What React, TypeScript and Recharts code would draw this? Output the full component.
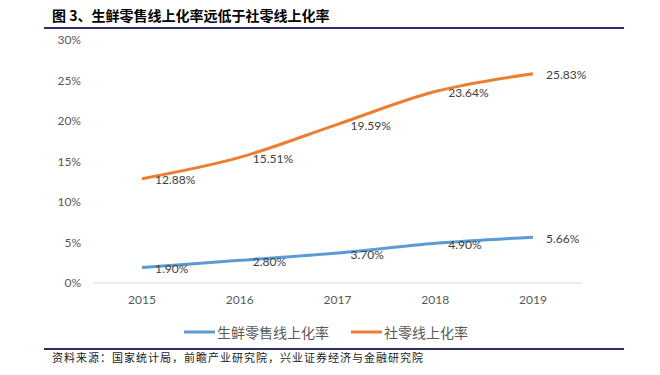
import React from "react";
import { LineChart, Line, XAxis, YAxis, Legend } from "recharts";

const years = ["2015", "2016", "2017", "2018", "2019"];
const freshOnline = [1.9, 2.8, 3.7, 4.9, 5.66];
const retailOnline = [12.88, 15.51, 19.59, 23.64, 25.83];
const yTicks = [0, 5, 10, 15, 20, 25, 30];

const freshName = "生鲜零售线上化率";
const retailName = "社零线上化率";

const BLUE = "#5B9BD5";
const ORANGE = "#ED7D31";
const NAVY = "#302D6B";
const LATIN = "Lato, 'Noto Sans', sans-serif";
const CJK = "'Noto Sans CJK SC', sans-serif";

const data = years.map((y, i) => ({ year: y, fresh: freshOnline[i], retail: retailOnline[i] }));

// labels sit just right of each point, like the Excel original
const renderLabel = (props: any) => {
  const { x, y, value } = props;
  return (
    <text x={x + 13} y={y + 1} dominantBaseline="central" fontSize={12} fill="#404040" fontFamily={LATIN}>
      {Number(value).toFixed(2)}%
    </text>
  );
};

const legendItems = [
  { name: freshName, color: BLUE },
  { name: retailName, color: ORANGE },
];

const renderLegend = () => (
  <div style={{ display: "flex", justifyContent: "center", height: 20, alignItems: "center", paddingLeft: 70 }}>
    {legendItems.map((it) => (
      <div key={it.name} style={{ display: "flex", alignItems: "center", margin: "0 11px" }}>
        <svg width={31} height={6}>
          <line x1={0} y1={3} x2={31} y2={3} stroke={it.color} strokeWidth={3} />
        </svg>
        <span style={{ fontFamily: CJK, fontSize: 14, color: "#595959", marginLeft: 2 }}>{it.name}</span>
      </div>
    ))}
  </div>
);

export default function App() {
  return (
    <div style={{ position: "absolute", left: 0, top: 0, width: 660, height: 375, background: "#fff" }}>
      <div style={{ position: "absolute", left: 52, top: 6, fontFamily: CJK, fontWeight: 700, fontSize: 14, color: "#000", whiteSpace: "nowrap", lineHeight: "18px" }}>
        图 3、生鲜零售线上化率远低于社零线上化率
      </div>
      <div style={{ position: "absolute", left: 44, top: 27, width: 580, height: 2, background: NAVY }} />
      <LineChart width={660} height={375} data={data} margin={{ top: 40, right: 78, bottom: 33, left: 0 }}>
        <XAxis
          dataKey="year"
          axisLine={{ stroke: "#D9D9D9" }}
          tickLine={false}
          tickSize={0}
          tickMargin={12}
          height={39}
          padding={{ left: 49, right: 49 }}
          tick={{ fontSize: 12, fill: "#595959", fontFamily: LATIN }}
        />
        <YAxis
          domain={[0, 30]}
          ticks={yTicks}
          width={93}
          axisLine={false}
          tickLine={false}
          tickSize={0}
          tickMargin={12}
          tickFormatter={(v) => `${v}%`}
          tick={{ fontSize: 12, fill: "#595959", fontFamily: LATIN }}
        />
        <Legend verticalAlign="bottom" content={renderLegend} />
        <Line type="monotone" dataKey="fresh" name={freshName} stroke={BLUE} strokeWidth={3} dot={false} label={renderLabel} isAnimationActive={false} />
        <Line type="monotone" dataKey="retail" name={retailName} stroke={ORANGE} strokeWidth={3} dot={false} label={renderLabel} isAnimationActive={false} />
      </LineChart>
      <div style={{ position: "absolute", left: 44, top: 348, width: 580, height: 2, background: NAVY }} />
      <div style={{ position: "absolute", left: 52, top: 350, fontFamily: CJK, fontSize: 11, letterSpacing: 1, color: "#1a1a1a", whiteSpace: "nowrap", lineHeight: "14px" }}>
        资料来源：国家统计局，前瞻产业研究院，兴业证券经济与金融研究院
      </div>
    </div>
  );
}
